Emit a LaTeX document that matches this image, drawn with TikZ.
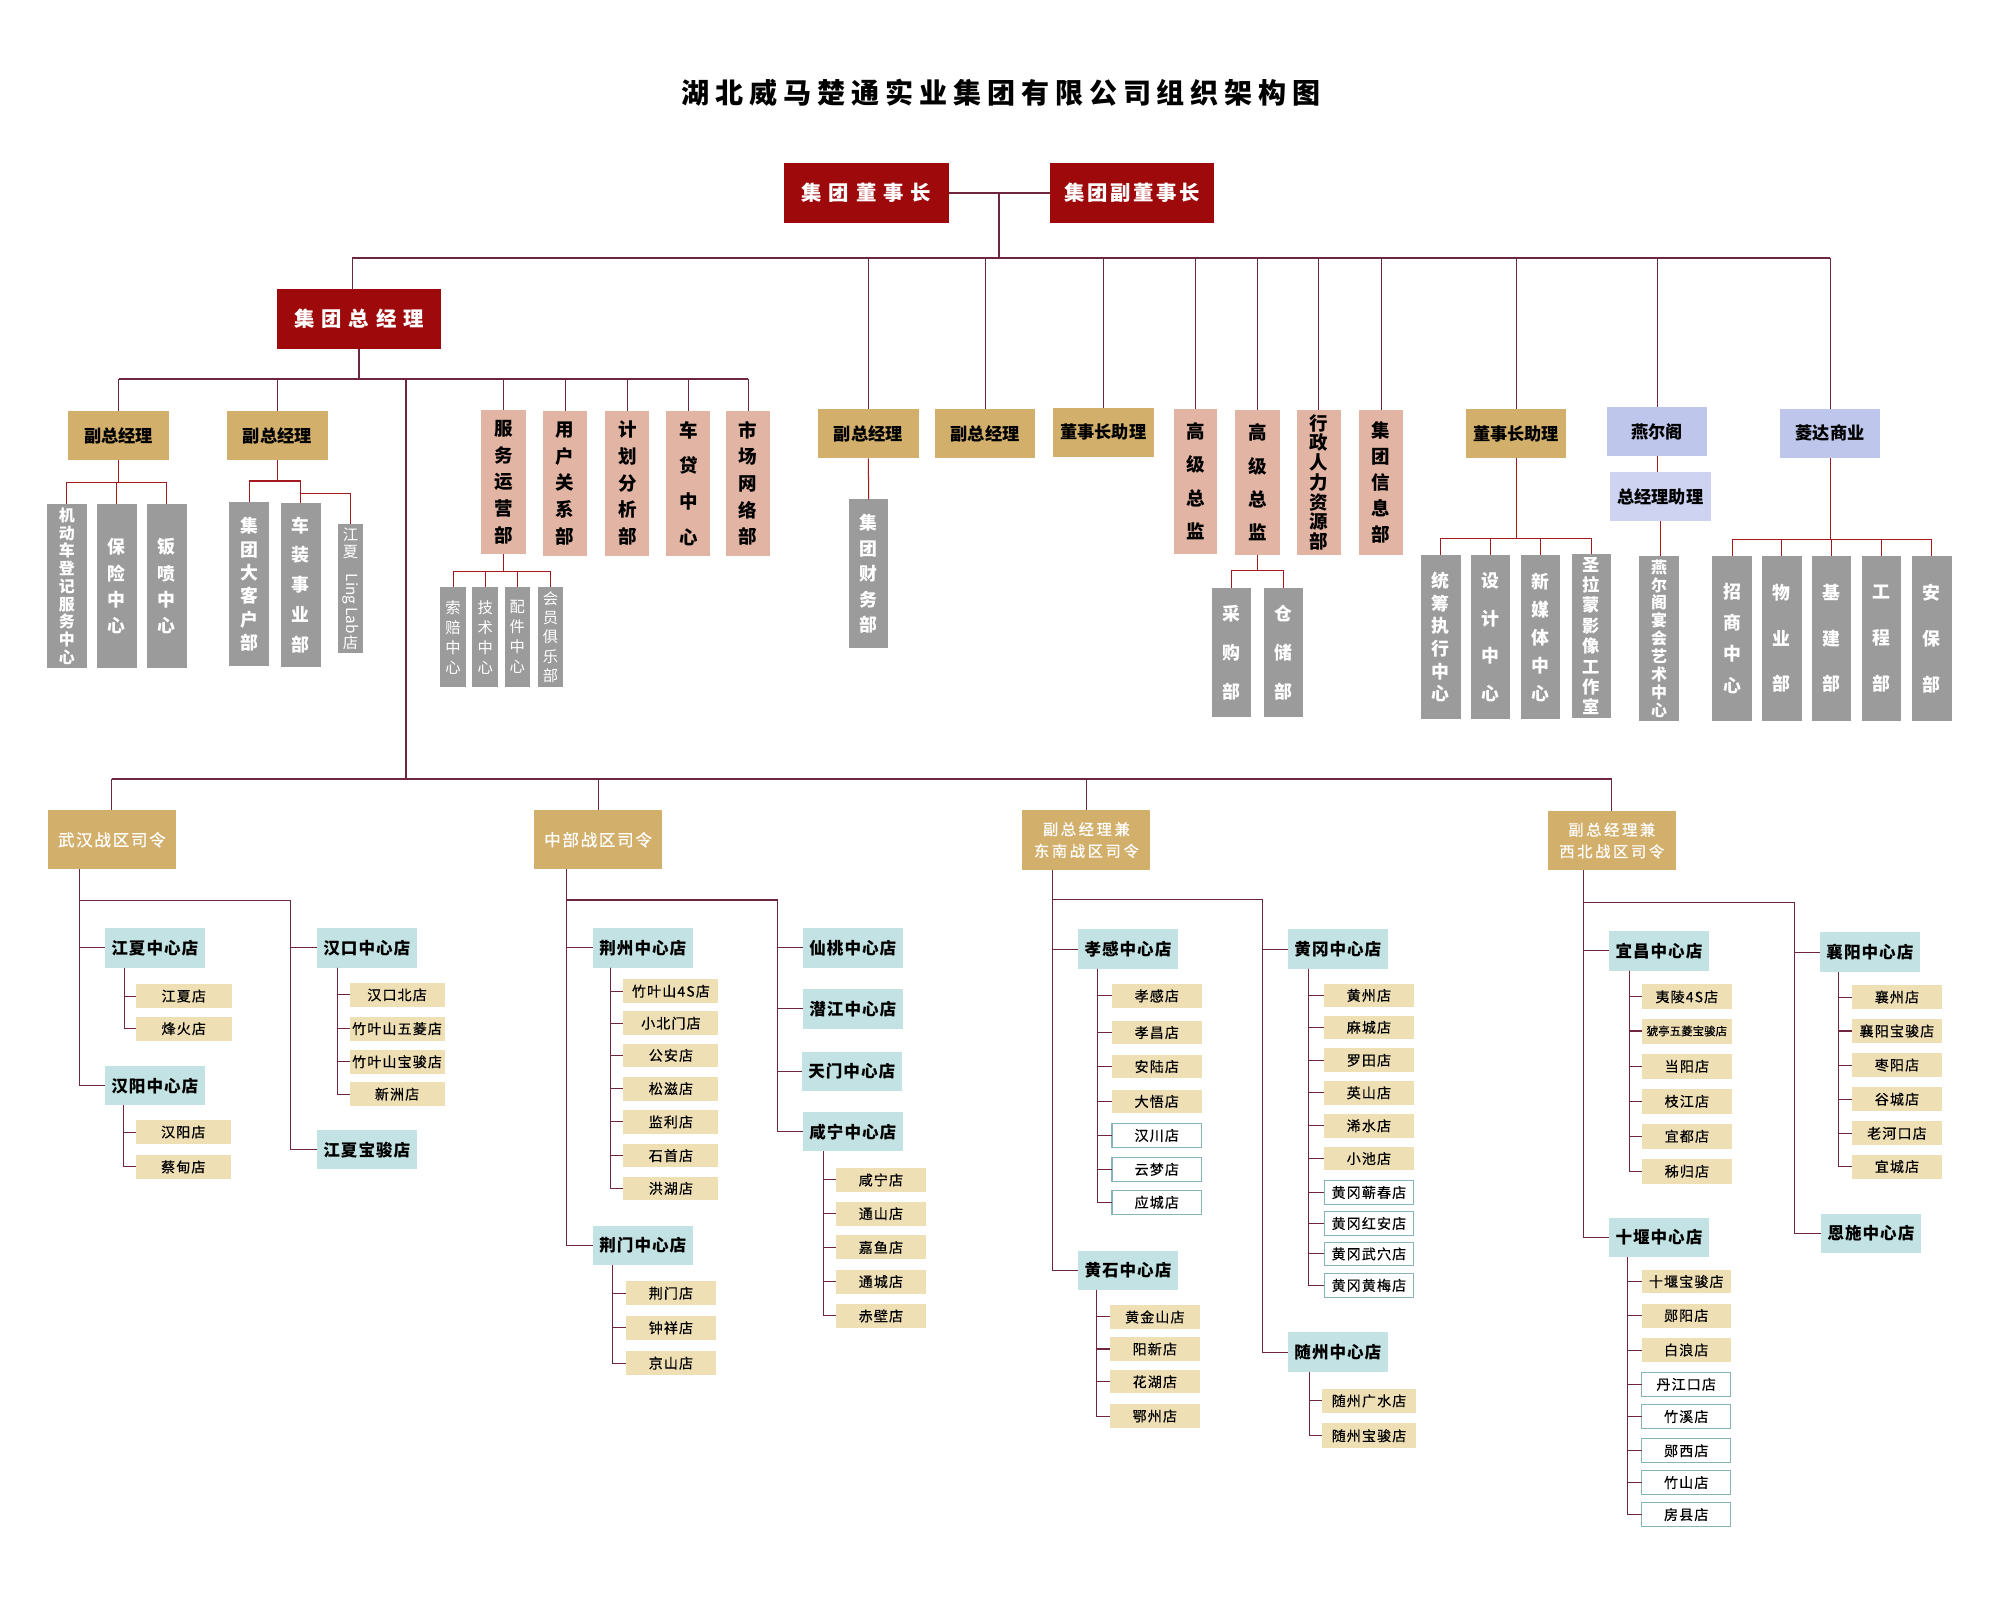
\documentclass[tikz,border=0pt]{standalone}
\usepackage{fontspec}
\setmainfont{Noto Sans CJK SC}
\usepackage{graphicx}
\usetikzlibrary{calc}

\definecolor{boxred}{HTML}{9E0A0B}
\definecolor{gold}{HTML}{D3AF6C}
\definecolor{pinkc}{HTML}{E2B4A4}
\definecolor{grayc}{HTML}{9B9B9B}
\definecolor{lav}{HTML}{BEC6EC}
\definecolor{lavl}{HTML}{CDD3F1}
\definecolor{tealc}{HTML}{C3E2E3}
\definecolor{cream}{HTML}{EFDFB5}
\definecolor{tealline}{HTML}{86B4B8}
\definecolor{maroon}{HTML}{6D2540}
\definecolor{redline}{HTML}{A3191E}

\newcommand\apretar{\lineskiplimit-100pt\relax}

\tikzset{
  box/.style={inner sep=0pt, outer sep=0pt, align=center},
  titulo/.style={box, font=\bfseries\fontsize{22}{24}\selectfont\addfontfeature{LetterSpace=21}},
  redbox/.style={box, fill=boxred, text=white, minimum width=129, minimum height=47,
    font=\bfseries\fontsize{16}{18}\selectfont\addfontfeature{LetterSpace=#1}},
  redbox/.default=12,
  goldbox/.style={box, fill=gold, minimum width=79, minimum height=38.6,
    font=\bfseries\fontsize{13.5}{15}\selectfont},
  pinkbox/.style={box, fill=pinkc, minimum width=34.8, minimum height=113.4,
    font=\bfseries\fontsize{14.5}{#1}\selectfont\apretar},
  pinkbox/.default=21,
  graybox/.style={box, fill=grayc, text=white, minimum width=31, minimum height=129,
    font=\bfseries\fontsize{14}{#1}\selectfont\apretar},
  graybox/.default=21,
  grayslim/.style={box, fill=grayc, text=white, minimum width=20, minimum height=78,
    font=\fontsize{12}{#1}\selectfont\apretar},
  grayslim/.default=15.7,
  bluebox/.style={box, fill=lav, minimum width=78.7, minimum height=38.1,
    font=\bfseries\fontsize{13.5}{15}\selectfont},
  zone/.style={box, fill=gold, text=white, minimum width=100.3, minimum height=46.5,
    font=\fontsize{13}{14}\selectfont\addfontfeature{LetterSpace=10,FakeBold=0.6}},
  zonetwo/.style={box, fill=gold, text=white, minimum width=100.4, minimum height=46.5,
    font=\fontsize{12}{17}\selectfont\addfontfeature{LetterSpace=17,FakeBold=0.6}\apretar},
  hub/.style={box, fill=tealc, minimum width=78.1, minimum height=#1,
    font=\bfseries\fontsize{13}{15}\selectfont\addfontfeature{LetterSpace=6}},
  shop/.style={box, fill=cream, font=\fontsize{11}{12}\selectfont\addfontfeature{LetterSpace=8,FakeBold=0.4}},
  shopw/.style={shop, fill=white, draw=tealline, line width=0.8pt},
  shopxs/.style={shop, font=\fontsize{9}{10}\selectfont\addfontfeature{FakeBold=0.4}},
  bus/.style={maroon, line width=1.6pt},
  link/.style={maroon, line width=0.8pt},
  sub/.style={redline, line width=0.8pt},
}

\begin{document}
\begin{tikzpicture}[x=1pt,y=-1pt]
\path[use as bounding box, fill=white] (0,0) rectangle (1568,1254.4);

%Titulo
\node[titulo] (ttl) at (785,73) {湖北威马楚通实业集团有限公司组织架构图};

%Presidencia
\node[redbox=34] (dsz) at (679.3,151.2) {集团董事长};
\node[redbox=12] (fdsz) at (887.6,151.2) {集团副董事长};
\node[redbox=34] (zjl) at (281.5,250) {集团总经理};

%Segundo nivel bajo la presidencia
\node[goldbox] (fz1) at (680.8,340) {副总经理};
\node[goldbox] (fz2) at (772.3,339.8) {副总经理};
\node[goldbox] (zl1) at (865,339) {董事长助理};
\node[pinkbox=26, minimum width=34.1] (gj1) at (937.3,377.3) {高\\级\\总\\监};
\node[pinkbox=26] (gj2) at (985.8,378.2) {高\\级\\总\\监};
\node[pinkbox=15.5] (xz) at (1033.9,378.2) {行\\政\\人\\力\\资\\源\\部};
\node[pinkbox=20.3] (xx) at (1082.7,378.2) {集\\团\\信\\息\\部};
\node[goldbox] (zl2) at (1188.6,340) {董事长助理};
\node[bluebox] (yeg) at (1299.3,338.2) {燕尔阁};
\node[bluebox, fill=lavl] (zlz) at (1301.7,389.2) {总经理助理};
\node[bluebox] (ld) at (1434.8,339.8) {菱达商业};

%Linea principal superior
\coordinate (mid) at ($(dsz.east)!0.5!(fdsz.west)$);
\coordinate (bus) at (783.5,202);
\coordinate (gmtop) at (276,227);
\draw[bus] (dsz.east) -- (fdsz.west);
\draw[bus] (mid) -- (mid |- bus);
\draw[bus] (gmtop |- bus) -- (ld.north |- bus);
\draw[link] (gmtop |- bus) -- (gmtop);
\foreach \n in {fz1,fz2,zl1,gj1,gj2,xz,xx,zl2,yeg,ld}
	\draw[link] (\n.north |- bus) -- (\n.north);

%Dependencias del segundo nivel
\node[graybox=20, minimum width=30.5, minimum height=116.8] (cw) at (681,450) {集\\团\\财\\务\\部};
\draw[sub] (fz1.south) -- (cw.north);

\node[graybox=30.7, minimum height=101.4] (cg) at (965.6,511.6) {采\\购\\部};
\node[graybox=30.7, minimum height=101.4] (cc) at (1006.4,511.6) {仓\\储\\部};
\coordinate (gj-b) at (985.8,447.6);
\draw[sub] (gj2.south) -- (gj-b) -| (cg.north);
\draw[sub] (gj-b) -| (cc.north);

\node[graybox=17.8] (tc) at (1129.6,499.5) {统\\筹\\执\\行\\中\\心};
\node[graybox=29.6] (sj) at (1168.7,499.5) {设\\计\\中\\心};
\node[graybox=21.9] (xm) at (1207.8,499.5) {新\\媒\\体\\中\\心};
\node[graybox=16, font=\bfseries\fontsize{13.5}{16}\selectfont\apretar] (sl) at (1247.8,498.7) {圣\\拉\\蒙\\影\\像\\工\\作\\室};
\coordinate (zl-b) at (1188.6,422);
\draw[sub] (zl2.south) -- (zl-b);
\foreach \n in {tc,sj,xm,sl}
	\draw[sub] (zl-b) -| (\n.north);

\node[graybox=14, font=\bfseries\fontsize{12.5}{14}\selectfont\apretar] (ys) at (1300.7,500.5) {燕\\尔\\阁\\宴\\会\\艺\\术\\中\\心};
\draw[sub] (yeg.south) -- (yeg.south |- zlz.north);
\draw[sub] (zlz.south) -- (zlz.south |- ys.north);

\node[graybox=24.4] (zs) at (1357.9,500.5) {招\\商\\中\\心};
\node[graybox=35.9] (wy) at (1397,500.5) {物\\业\\部};
\node[graybox=35.9] (jj) at (1436,500.5) {基\\建\\部};
\node[graybox=35.9] (gc) at (1475.2,500.5) {工\\程\\部};
\node[graybox=35.9] (ab) at (1514.5,500.5) {安\\保\\部};
\coordinate (ld-b) at (1434.8,422.8);
\draw[sub] (ld.south) -- (ld-b);
\foreach \n in {zs,wy,jj,gc,ab}
	\draw[sub] (ld-b) -| (\n.north);

%Departamentos del director general
\node[goldbox] (fa) at (93,341.6) {副总经理};
\node[goldbox] (fb) at (217.4,341.6) {副总经理};
\node[pinkbox=21] (fw) at (394.6,378) {服\\务\\运\\营\\部};
\node[pinkbox=20.9] (yh) at (443,378.9) {用\\户\\关\\系\\部};
\node[pinkbox=20.9] (jh) at (491.8,378.9) {计\\划\\分\\析\\部};
\node[pinkbox=28] (cd) at (539.6,378.9) {车\\贷\\中\\心};
\node[pinkbox=20.9] (sc) at (586.6,378.9) {市\\场\\网\\络\\部};
\coordinate (gb) at (281.5,297);
\draw[bus] (zjl.south) -- (gb);
\draw[bus] (fa.north |- gb) -- (sc.north |- gb);
\foreach \n in {fa,fb,fw,yh,jh,cd,sc}
	\draw[link] (\n.north |- gb) -- (\n.north);

\node[graybox=13.9, font=\bfseries\fontsize{12.5}{13.9}\selectfont\apretar] (jd) at (52.4,459.6) {机\\动\\车\\登\\记\\服\\务\\中\\心};
\node[graybox=20.5] (bx) at (91.6,459.6) {保\\险\\中\\心};
\node[graybox=20.5] (bp) at (130.8,459.6) {钣\\喷\\中\\心};
\coordinate (fa-b) at (93,378.1);
\draw[sub] (fa.south) -- (fa-b) -| (jd.north);
\draw[sub] (fa-b) -| (bx.north);
\draw[sub] (fa-b) -| (bp.north);

\node[graybox=18.3] (dk) at (195.4,458) {集\\团\\大\\客\\户\\部};
\node[graybox=23.5] (cz) at (235.8,458.7) {车\\装\\事\\业\\部};
\node[box, fill=grayc, text=white, minimum width=20, minimum height=101.4, font=\fontsize{12}{13}\selectfont] (ll) at (274.8,461.5) {江\\夏\\\rotatebox{-90}{Ling Lab}\\店};
\coordinate (fb-b) at (217.4,377.1);
\coordinate (fb-c) at (235.8,386.7);
\draw[sub] (fb.south) -- (fb-b) -| (dk.north);
\draw[sub] (fb-b) -| (cz.north);
\draw[sub] (fb-c) -| (ll.north);

\node[grayslim] (sp) at (355.2,499.5) {索\\赔\\中\\心};
\node[grayslim] (js) at (380.4,499.5) {技\\术\\中\\心};
\node[grayslim] (pj) at (405.6,499.5) {配\\件\\中\\心};
\node[grayslim=15] (hy) at (431.6,499.5) {会\\员\\俱\\乐\\部};
\coordinate (fw-b) at (394.6,447.9);
\draw[sub] (fw.south) -- (fw-b);
\foreach \n in {sp,js,pj,hy}
	\draw[sub] (fw-b) -| (\n.north);

%Zonas de guerra
\node[zone] (wh) at (87.7,658.4) {武汉战区司令};
\node[zone] (zb) at (468.9,658.4) {中部战区司令};
\node[zonetwo] (dn) at (851.7,658.6) {副总经理兼\\东南战区司令};
\node[zonetwo] (xb) at (1263.6,659) {副总经理兼\\西北战区司令};
\coordinate (tb) at (318.4,610.5);
\draw[bus] (tb |- gb) -- (tb);
\draw[bus] (wh.north |- tb) -- (xb.north |- tb);
\foreach \n in {wh,zb,dn,xb}
	\draw[link] (\n.north |- tb) -- (\n.north);

%Zona Wuhan
\node[hub=30.8] (jxz) at (121.4,743.2) {江夏中心店};
\node[hub=30.9] (hyz) at (121.4,851.2) {汉阳中心店};
\node[hub=30.8] (hkz) at (287.6,743.2) {汉口中心店};
\node[hub=30.5] (jxb) at (287.6,901.5) {江夏宝骏店};
\coordinate (wh-b) at (227.6,705.9);
\draw[link] (wh.south west) ++(24.6,0) |- (jxz.west);
\draw[link] (wh.south west) ++(24.6,0) |- (hyz.west);
\draw[link] (wh.south west) ++(24.6,0) |- (wh-b) |- (hkz.west);
\draw[link] (wh-b) |- (jxb.west);
\foreach \t/\y [count=\i] in {江夏店/780.9,烽火店/806.5}{
	\node[shop, minimum width=75, minimum height=18.5] (jxz\i) at (144.1,\y) {\t};
	\draw[link] (jxz.south west) ++(15.4,0) |- (jxz\i.west);
}
\foreach \t/\y [count=\i] in {汉阳店/887.5,蔡甸店/914.9}{
	\node[shop, minimum width=74.2, minimum height=18.5] (hyz\i) at (143.7,\y) {\t};
	\draw[link] (hyz.south west) ++(14.6,0) |- (hyz\i.west);
}
\foreach \t/\y [count=\i] in {汉口北店/780,竹叶山五菱店/806.5,竹叶山宝骏店/832.4,新洲店/857.8}{
	\node[shop, minimum width=74.5, minimum height=18.8] (hkz\i) at (311.3,\y) {\t};
	\draw[link] (hkz.south west) ++(15.9,0) |- (hkz\i.west);
}

%Zona central
\node[hub=30.9] (jzz) at (504,743.2) {荆州中心店};
\node[hub=30.9] (jmz) at (504,976.5) {荆门中心店};
\node[hub=30.9] (xtz) at (668.6,743.2) {仙桃中心店};
\node[hub=30.9] (qjz) at (668.6,791) {潜江中心店};
\node[hub=30.9] (tmz) at (667.8,839.9) {天门中心店};
\node[hub=30.9] (xnz) at (668.6,887.3) {咸宁中心店};
\coordinate (zb-b) at (609.4,705.6);
\draw[link] (zb.south west) ++(25.6,0) |- (jzz.west);
\draw[link] (zb.south west) ++(25.6,0) |- (jmz.west);
\draw[link] (zb.south west) ++(25.6,0) |- (zb-b) |- (xtz.west);
\foreach \n in {qjz,tmz,xnz}
	\draw[link] (zb-b) |- (\n.west);
\foreach \t/\y [count=\i] in {竹叶山4S店/777.1,小北门店/802.2,公安店/827.4,松滋店/853.5,监利店/879.6,石首店/906,洪湖店/931.7}{
	\node[shop, minimum width=74.5, minimum height=18.6] (jzz\i) at (526,\y) {\t};
	\draw[link] (jzz.south west) ++(13.9,0) |- (jzz\i.west);
}
\foreach \t/\y [count=\i] in {荆门店/1013.9,钟祥店/1041,京山店/1068.7}{
	\node[shop, minimum width=70.3, minimum height=18.5] (jmz\i) at (526,\y) {\t};
	\draw[link] (jmz.south west) ++(15.4,0) |- (jmz\i.west);
}
\foreach \t/\y [count=\i] in {咸宁店/925.1,通山店/951.5,嘉鱼店/978,通城店/1004.8,赤壁店/1031.7}{
	\node[shop, minimum width=70.3, minimum height=18.8] (xnz\i) at (690.6,\y) {\t};
	\draw[link] (xnz.south west) ++(16,0) |- (xnz\i.west);
}

%Zona sureste
\node[hub=31.1] (xgz) at (884.3,744.1) {孝感中心店};
\node[hub=30.8] (hsz) at (884.3,995.8) {黄石中心店};
\node[hub=31.1] (hgz) at (1048.9,744.1) {黄冈中心店};
\node[hub=30.8] (szz) at (1048.9,1060) {随州中心店};
\coordinate (dn-b) at (989.7,705.2);
\draw[link] (dn.south west) ++(23.5,0) |- (xgz.west);
\draw[link] (dn.south west) ++(23.5,0) |- (hsz.west);
\draw[link] (dn.south west) ++(23.5,0) |- (dn-b) |- (hgz.west);
\draw[link] (dn-b) |- (szz.west);
\foreach \t/\y/\s [count=\i] in {孝感店/780.8/shop,孝昌店/809.5/shop,安陆店/836.2/shop,大悟店/863.5/shop,汉川店/890.2/shopw,云梦店/916.8/shopw,应城店/942.6/shopw}{
	\node[\s, minimum width=70.2, minimum height=18.5] (xgz\i) at (906.9,\y) {\t};
	\draw[link] (xgz.south west) ++(15.4,0) |- (xgz\i.west);
}
\foreach \t/\y [count=\i] in {黄金山店/1032.5,阳新店/1057.6,花湖店/1083.3,鄂州店/1110.2}{
	\node[shop, minimum width=70.2, minimum height=18.3] (hsz\i) at (905.4,\y) {\t};
	\draw[link] (hsz.south west) ++(14.3,0) |- (hsz\i.west);
}
\foreach \t/\y/\s [count=\i] in {黄州店/780.4/shop,麻城店/805.4/shop,罗田店/831.2/shop,英山店/856.8/shop,浠水店/882.6/shop,小池店/908.3/shop,黄冈蕲春店/934.9/shopw,黄冈红安店/959.2/shopw,黄冈武穴店/983.1/shopw,黄冈黄梅店/1007.7/shopw}{
	\node[\s, minimum width=70.3, minimum height=18.4] (hgz\i) at (1073.2,\y) {\t};
	\draw[link] (hgz.south west) ++(15.9,0) |- (hgz\i.west);
}
\foreach \t/\y [count=\i] in {随州广水店/1098.3,随州宝骏店/1125.6}{
	\node[shop, minimum width=74.2, minimum height=19.2] (szz\i) at (1073.3,\y) {\t};
	\draw[link] (szz.south west) ++(16.7,0) |- (szz\i.west);
}

%Zona noroeste
\node[hub=31] (ycz) at (1300.6,745.4) {宜昌中心店};
\node[hub=30.5] (syz) at (1300.6,970.3) {十堰中心店};
\node[hub=31.3] (xyz) at (1466,746.4) {襄阳中心店};
\node[hub=31] (esz) at (1466.8,966.9) {恩施中心店};
\coordinate (xb-b) at (1406.8,707.2);
\draw[link] (xb.south west) ++(28,0) |- (ycz.west);
\draw[link] (xb.south west) ++(28,0) |- (syz.west);
\draw[link] (xb.south west) ++(28,0) |- (xb-b) |- (xyz.west);
\draw[link] (xb-b) |- (esz.west);
\foreach \t/\y/\s [count=\i] in {夷陵4S店/781.5/shop,猇亭五菱宝骏店/808.3/shopxs,当阳店/836/shop,枝江店/863.4/shop,宜都店/890.8/shop,秭归店/918.3/shop}{
	\node[\s, minimum width=70, minimum height=19.6] (ycz\i) at (1322.5,\y) {\t};
	\draw[link] (ycz.south west) ++(15.9,0) |- (ycz\i.west);
}
\foreach \t/\y/\s [count=\i] in {十堰宝骏店/1004.7/shop,郧阳店/1031.4/shop,白浪店/1058.4/shop,丹江口店/1085.3/shopw,竹溪店/1110.6/shopw,郧西店/1137.4/shopw,竹山店/1162.3/shopw,房县店/1187.4/shopw}{
	\node[\s, minimum width=69.5, minimum height=18.7] (syz\i) at (1322,\y) {\t};
	\draw[link] (syz.south west) ++(14.4,0) |- (syz\i.west);
}
\foreach \t/\y [count=\i] in {襄州店/781.7,襄阳宝骏店/808.3,枣阳店/835,谷城店/861.8,老河口店/888.5,宜城店/914.6}{
	\node[shop, minimum width=70.5, minimum height=18.9] (xyz\i) at (1487.2,\y) {\t};
	\draw[link] (xyz.south west) ++(14.4,0) |- (xyz\i.west);
}
\end{tikzpicture}
\end{document}
